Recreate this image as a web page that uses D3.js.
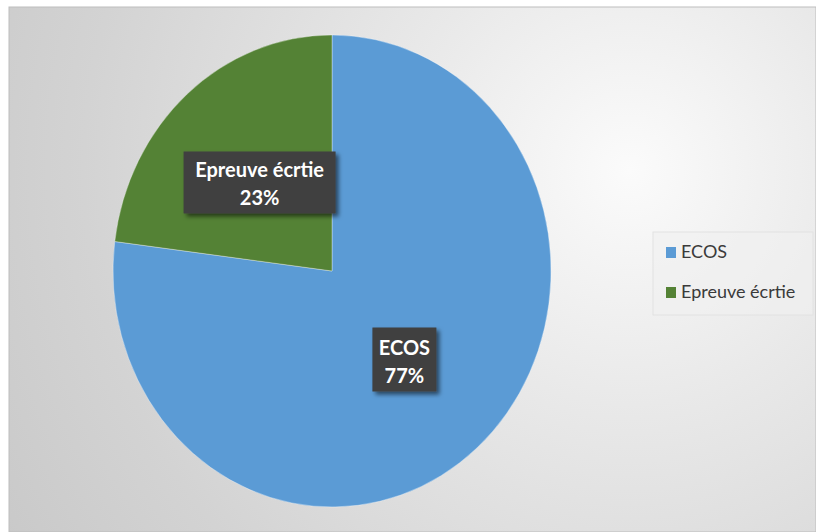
<!DOCTYPE html>
<html>
<head>
<meta charset="utf-8">
<script src="https://cdn.jsdelivr.net/npm/d3@7/dist/d3.min.js"></script>
<style>
  html, body { margin: 0; padding: 0; background: #ffffff; }
  svg { display: block; }
</style>
</head>
<body>
<script>
// Répartition de la note : ECOS vs épreuve écrite
const categories = ["ECOS", "Epreuve écrtie"];
const values = [77, 23];
const colors = ["#5b9bd5", "#548235"];

const W = 816, H = 532;
const svg = d3.select("body").append("svg").attr("width", W).attr("height", H);
const defs = svg.append("defs");

const grad = defs.append("radialGradient")
  .attr("id", "bg").attr("gradientUnits", "userSpaceOnUse")
  .attr("cx", 630).attr("cy", 170).attr("r", 780);
grad.append("stop").attr("offset", "0%").attr("stop-color", "#fbfbfb");
grad.append("stop").attr("offset", "30%").attr("stop-color", "#e9e9e9");
grad.append("stop").attr("offset", "70%").attr("stop-color", "#d3d3d3");
grad.append("stop").attr("offset", "100%").attr("stop-color", "#c6c6c6");

const shadow = defs.append("filter").attr("id", "shadow")
  .attr("x", "-20%").attr("y", "-20%").attr("width", "150%").attr("height", "150%");
shadow.append("feDropShadow").attr("dx", 3).attr("dy", 3)
  .attr("stdDeviation", 2).attr("flood-color", "#000").attr("flood-opacity", 0.55);

// Zone de tracé
svg.append("rect").attr("x", 9).attr("y", 7).attr("width", W - 9).attr("height", H - 7)
  .attr("fill", "url(#bg)").attr("stroke", "#bdbdbd").attr("stroke-width", 1);

// Camembert (légèrement étiré verticalement)
const cx = 332, cy = 271, rx = 219, ry = 236;
const pie = d3.pie().sort(null).value(d => d)(values);
const arc = d3.arc().innerRadius(0).outerRadius(1);

const g = svg.append("g").attr("transform", `translate(${cx},${cy}) scale(${rx},${ry})`);
g.selectAll("path").data(pie).join("path")
  .attr("d", arc)
  .attr("fill", (d, i) => colors[i])
  .attr("stroke", "#ffffff").attr("stroke-opacity", 0.35)
  .attr("stroke-width", 1).attr("vector-effect", "non-scaling-stroke");

// Étiquettes de données
const total = d3.sum(values);
const labelArc = d3.arc().innerRadius(0).outerRadius(1.0);
const boxes = [
  { w: 64, h: 64 },
  { w: 152, h: 62 }
];
const labels = svg.append("g");
pie.forEach((d, i) => {
  const c = labelArc.centroid(d);
  const x = cx + c[0] * rx, y = cy + c[1] * ry;
  const lg = labels.append("g").attr("transform", `translate(${x},${y})`);
  lg.append("rect")
    .attr("x", -boxes[i].w / 2).attr("y", -boxes[i].h / 2)
    .attr("width", boxes[i].w).attr("height", boxes[i].h)
    .attr("fill", "#404040").attr("filter", "url(#shadow)");
  const t = lg.append("text")
    .attr("text-anchor", "middle")
    .attr("font-family", "Lato, 'Open Sans', sans-serif")
    .attr("font-weight", "bold").attr("font-size", 20)
    .attr("fill", "#ffffff");
  t.append("tspan").attr("x", 0).attr("y", -5).text(categories[i]);
  t.append("tspan").attr("x", 0).attr("y", 23)
    .text(Math.round(values[i] / total * 100) + "%");
});

// Légende
const legend = svg.append("g").attr("transform", "translate(653,232)");
legend.append("rect").attr("width", 160).attr("height", 83)
  .attr("fill", "#f0f0f0").attr("fill-opacity", 0.6)
  .attr("stroke", "#e2e2e2").attr("stroke-width", 1);
const items = legend.selectAll("g.item").data(categories).join("g")
  .attr("class", "item")
  .attr("transform", (d, i) => `translate(13,${15 + i * 40})`);
items.append("rect").attr("width", 10).attr("height", 11)
  .attr("fill", (d, i) => colors[i]);
items.append("text").attr("x", 15).attr("y", 11)
  .attr("font-family", "Lato, 'Open Sans', sans-serif")
  .attr("font-size", 18).attr("fill", "#3a3a3a")
  .text(d => d);
</script>
</body>
</html>
